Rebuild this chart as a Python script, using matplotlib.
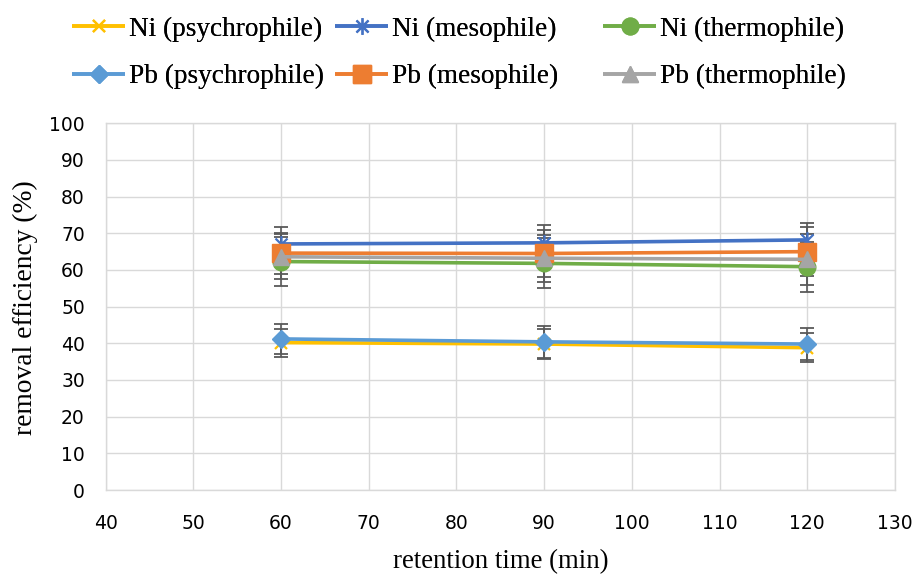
import matplotlib
matplotlib.use("Agg")
import matplotlib.pyplot as plt
from matplotlib.path import Path

# ---- data ----
retention_time = [60, 90, 120]
series_names = ["Ni (psychrophile)", "Ni (mesophile)", "Ni (thermophile)",
                "Pb (psychrophile)", "Pb (mesophile)", "Pb (thermophile)"]
ni_psychro = [40.2, 39.8, 38.8]
ni_meso = [67.1, 67.4, 68.2]
ni_thermo = [62.3, 61.8, 60.9]
pb_psychro = [41.2, 40.4, 39.8]
pb_meso = [64.6, 64.5, 65.0]
pb_thermo = [63.6, 63.2, 62.9]

ni_psychro_err = [3.8, 4.0, 4.0]
ni_meso_err = [4.6, 4.9, 4.5]
ni_thermo_err = [6.6, 6.8, 6.8]
pb_psychro_err = [4.2, 4.4, 4.3]
pb_meso_err = [5.6, 6.4, 6.6]
pb_thermo_err = [6.1, 6.4, 7.0]

x_ticks = [40, 50, 60, 70, 80, 90, 100, 110, 120, 130]
y_ticks = [0, 10, 20, 30, 40, 50, 60, 70, 80, 90, 100]

values = [ni_psychro, ni_meso, ni_thermo, pb_psychro, pb_meso, pb_thermo]
errors = [ni_psychro_err, ni_meso_err, ni_thermo_err, pb_psychro_err, pb_meso_err, pb_thermo_err]

# ---- styles ----
asterisk = Path([(0, -1), (0, 1), (-0.72, -0.72), (0.72, 0.72), (-0.72, 0.72), (0.72, -0.72)],
                [Path.MOVETO, Path.LINETO, Path.MOVETO, Path.LINETO, Path.MOVETO, Path.LINETO])
colors = ["#FFC000", "#4472C4", "#70AD47", "#5B9BD5", "#ED7D31", "#A5A5A5"]
markers = ["x", asterisk, "o", "D", "s", "^"]
msizes = [9, 12, 12, 9, 12.5, 12]
mews = [1.6, 1.6, 1, 1, 1, 1]

W, H = 918, 575
fig = plt.figure(figsize=(W / 100, H / 100), dpi=100)
ax_h = 490 - 123.3
ax_w = 895 - 105.7
ax = fig.add_axes([105.7 / W, 1 - 490 / H, ax_w / W, ax_h / H])

grid_c = "#D9D9D9"
for i, (vals, errs) in enumerate(zip(values, errors)):
    ax.errorbar(retention_time, vals, yerr=errs, fmt="none", ecolor="#595959",
                elinewidth=1.2, capsize=5, capthick=1.3, zorder=2)
handles = []
for i, vals in enumerate(values):
    ln, = ax.plot(retention_time, vals, color=colors[i], lw=2.6, marker=markers[i],
                  markersize=msizes[i], markeredgewidth=mews[i],
                  markerfacecolor=colors[i], markeredgecolor=colors[i],
                  zorder=3 + i, label=series_names[i], solid_capstyle="butt")
    handles.append(ln)

ax.set_xlim(40, 130)
ax.set_ylim(0, 100)
ax.set_xticks(x_ticks)
ax.set_yticks(y_ticks)
ax.grid(True, color=grid_c, lw=1.0, zorder=0)
ax.set_axisbelow(True)
for sp in ax.spines.values():
    sp.set_color(grid_c)
    sp.set_linewidth(1.0)
ax.tick_params(length=0, pad=15, labelsize=13.5, labelcolor="#000000")
for lbl in ax.get_xticklabels() + ax.get_yticklabels():
    lbl.set_fontfamily("DejaVu Sans")
ax.tick_params(axis="x", pad=17)

ax.set_xlabel("retention time (min)", fontfamily="Liberation Serif", fontsize=19.3,
              va="center")
ax.set_ylabel("removal efficiency (%)", fontfamily="Liberation Serif", fontsize=19.8,
              va="center")
ax.xaxis.set_label_coords(0.5, -(562 - 490) / ax_h)
ax.yaxis.set_label_coords(-(105.7 - 25.5) / ax_w, (490 - 308) / ax_h)

# legend: three columns, two rows
col_x = [72, 335, 603]
for c in range(3):
    hs = [handles[c], handles[c + 3]]
    leg = fig.legend(hs, [h.get_label() for h in hs], loc="upper left",
                     bbox_to_anchor=(col_x[c] / W, 1 - 16.5 / H), frameon=False,
                     prop={"family": "Liberation Serif", "size": 19.6},
                     handlelength=1.95, handletextpad=0.15, borderpad=0,
                     borderaxespad=0, labelspacing=0.83, numpoints=1)
    fig.add_artist(leg)

fig.savefig("out.png", dpi=100)
